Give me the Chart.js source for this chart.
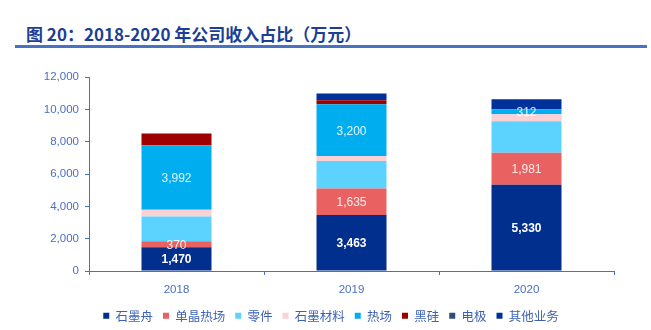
<!DOCTYPE html>
<html>
<head>
<meta charset="utf-8">
<script src="https://cdn.jsdelivr.net/npm/chart.js@4.4.0/dist/chart.umd.min.js"></script>
<style>
  html, body { margin: 0; padding: 0; background: #fff; }
  #wrap { position: relative; width: 651px; height: 330px; }
  #title {
    position: absolute; left: 26px; top: 24px;
    font: bold 17px "Noto Sans CJK SC", sans-serif; line-height: 20px;
    color: #1B3F94; white-space: nowrap;
  }
  #rule { position: absolute; left: 15px; top: 45px; width: 632px; height: 3px; background: #4A72C4; }
  canvas { position: absolute; left: 0; top: 0; }
</style>
</head>
<body>
<div id="wrap">
  <div id="title">图 20：2018-2020 年公司收入占比（万元）</div>
  <div id="rule"></div>
  <canvas id="chart" width="651" height="330"></canvas>
</div>
<script>
// 数据
const years = ['2018', '2019', '2020'];
const shimozhou = [1470, 3463, 5330];   // 石墨舟
const danjing = [370, 1635, 1981];      // 单晶热场
const lingjian = [1530, 1700, 1950];    // 零件
const shimocailiao = [415, 310, 435];   // 石墨材料
const rechang = [3992, 3200, 312];      // 热场
const heigui = [725, 250, 0];           // 黑硅
const dianji = [0, 0, 0];               // 电极
const qita = [0, 415, 620];             // 其他业务
const yTicks = [0, 2000, 4000, 6000, 8000, 10000, 12000];

const axisBlue = '#4472C4';
const textBlue = '#4A6FC0';

// 标签插件：在柱子中间写数值
const barLabels = {
  id: 'barLabels',
  afterDatasetsDraw(chart) {
    const ctx = chart.ctx;
    chart.data.datasets.forEach((ds, i) => {
      if (!ds.showValue) return;
      const meta = chart.getDatasetMeta(i);
      meta.data.forEach((bar, j) => {
        const v = ds.data[j];
        if (!v) return;
        const p = bar.getProps(['x', 'y', 'base'], true);
        ctx.save();
        ctx.font = (ds.boldValue ? 'bold ' : '') + '12px "Liberation Sans", Arial, sans-serif';
        ctx.fillStyle = ds.boldValue ? '#ffffff' : 'rgba(255,255,255,0.88)';
        ctx.textAlign = 'center';
        ctx.textBaseline = 'middle';
        ctx.fillText(v.toLocaleString('en-US'), p.x, (p.y + p.base) / 2 + 1);
        ctx.restore();
      });
    });
  }
};

// 图例稍微右移
const legendShift = {
  id: 'legendShift',
  afterLayout(chart) {
    chart.legend.left += 7;
    chart.legend.right += 7;
  }
};

function makeSet(label, data, color, showValue, boldValue) {
  return { label, data, backgroundColor: color, borderWidth: 0, showValue, boldValue };
}

new Chart(document.getElementById('chart'), {
  type: 'bar',
  data: {
    labels: years,
    datasets: [
      makeSet('石墨舟', shimozhou, '#002F8E', true, true),
      makeSet('单晶热场', danjing, '#E96161', true, false),
      makeSet('零件', lingjian, '#5CD3FF', false, false),
      makeSet('石墨材料', shimocailiao, '#FAD2D6', false, false),
      makeSet('热场', rechang, '#00ADEE', true, false),
      makeSet('黑硅', heigui, '#9E0000', false, false),
      makeSet('电极', dianji, '#2E4C7C', false, false),
      makeSet('其他业务', qita, '#00309A', false, false),
    ],
  },
  options: {
    responsive: false,
    animation: false,
    layout: { padding: { left: 34, right: 37, top: 77, bottom: -2 } },
    datasets: { bar: { barPercentage: 0.4, categoryPercentage: 1 } },
    plugins: {
      tooltip: { enabled: false },
      legend: {
        position: 'bottom',
        labels: {
          boxWidth: 6,
          boxHeight: 6,
          padding: 10,
          color: '#3D62B5',
          font: { family: '"Noto Sans CJK SC", sans-serif', size: 12.5 },
        },
      },
    },
    scales: {
      x: {
        stacked: true,
        grid: { offset: true, drawOnChartArea: false, drawTicks: true, tickLength: 4, color: axisBlue },
        border: { color: axisBlue, width: 1 },
        ticks: { color: textBlue, padding: 8, font: { family: '"Liberation Sans", Arial, sans-serif', size: 11.5 } },
        afterFit(scale) { scale.height = 28.5; },
      },
      y: {
        stacked: true,
        min: 0,
        max: 12000,
        afterBuildTicks(scale) { scale.ticks = yTicks.map(v => ({ value: v })); },
        grid: { drawOnChartArea: false, drawTicks: true, tickLength: 4, color: axisBlue },
        border: { color: axisBlue, width: 1 },
        ticks: {
          color: textBlue,
          padding: 6,
          font: { family: '"Liberation Sans", Arial, sans-serif', size: 11.5 },
          callback: v => v.toLocaleString('en-US'),
        },
        afterFit(scale) { scale.width = 55; },
      },
    },
  },
  plugins: [barLabels, legendShift],
});
</script>
</body>
</html>
